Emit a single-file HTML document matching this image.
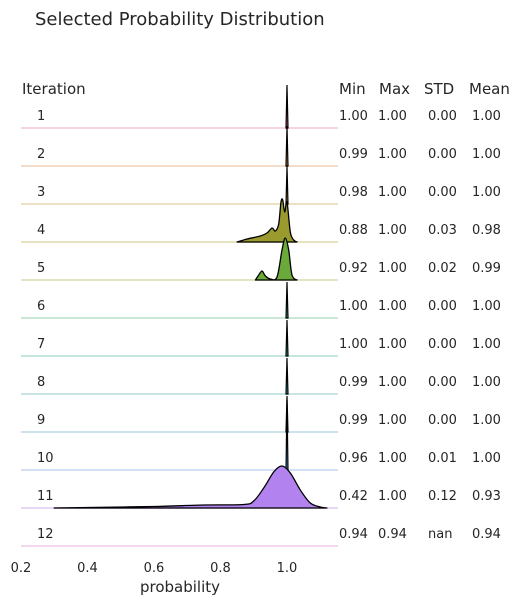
<!DOCTYPE html>
<html><head><meta charset="utf-8"><style>
body{margin:0;background:#fff;}
svg text{font-family:"DejaVu Sans","Liberation Sans",sans-serif;fill:#262626;}
</style></head><body>
<svg id="chart" width="523" height="604" viewBox="0 0 523 604">
<text x="35" y="25" font-size="18">Selected Probability Distribution</text>
<text x="22" y="94" font-size="15">Iteration</text>
<text x="339" y="94" font-size="15">Min</text>
<text x="379" y="94" font-size="15">Max</text>
<text x="424" y="94" font-size="15">STD</text>
<text x="469" y="94" font-size="15">Mean</text>
<g id="ridges"></g>
<g id="xaxis"></g>
<text x="180" y="592" font-size="15" text-anchor="middle">probability</text>
</svg>
<script>
const iterations=["1","2","3","4","5","6","7","8","9","10","11","12"];
const mins=["1.00","0.99","0.98","0.88","0.92","1.00","1.00","0.99","0.99","0.96","0.42","0.94"];
const maxs=["1.00","1.00","1.00","1.00","1.00","1.00","1.00","1.00","1.00","1.00","1.00","0.94"];
const stds=["0.00","0.00","0.00","0.03","0.02","0.00","0.00","0.00","0.00","0.01","0.12","nan"];
const means=["1.00","1.00","1.00","0.98","0.99","1.00","1.00","1.00","1.00","1.00","0.93","0.94"];
const lineColors=["#f7d5dc","#f4dcc8","#ede0c4","#e8e2c0","#e2e6c2","#c9e8d6","#c6e6e0","#c8e4e6","#cce2ec","#d2dff4","#e6d8f6","#f4d6ee"];
const fillColors=["#e06d84","#d48a46","#b69a3a","#9a9a2e","#6aaa3a","#3aad7a","#38aa9e","#3aa8b2","#3ea6c6","#4a9ee0","#b283ee","#e070c8"];
const xTicks=[0.2,0.4,0.6,0.8,1.0];
const dens4=[[0.85,0],[0.88,3],[0.92,6],[0.94,9],[0.955,14],[0.965,11],[0.975,18],[0.982,40],[0.987,42],[0.993,30],[1.0,40],[1.01,10],[1.02,2],[1.03,0]];
const dens5=[[0.905,0],[0.915,5],[0.925,9],[0.935,4],[0.95,1],[0.97,3],[0.985,30],[0.995,42],[1.005,30],[1.015,5],[1.03,0]];
const dens11=[[0.3,0],[0.4,0.5],[0.6,1.5],[0.75,3],[0.87,3.5],[0.9,7],[0.93,20],[0.96,36],[0.985,42],[1.01,35],[1.04,18],[1.07,5],[1.1,1],[1.12,0]];
const spikeHeights=[43,40,38,0,0,36,36,36,36,70,0,0];
const ridgeDens={3:dens4,4:dens5,10:dens11};
const xs=v=>21+(v-0.2)*332.5;
const base=i=>128+i*38;
const NS="http://www.w3.org/2000/svg";
const g=document.getElementById('ridges');
function mk(tag,attrs,parent){const e=document.createElementNS(NS,tag);for(const k in attrs)e.setAttribute(k,attrs[k]);parent.appendChild(e);return e;}
function smooth(pts){
  let p='M'+pts[0][0].toFixed(1)+','+pts[0][1].toFixed(1);
  for(let i=0;i<pts.length-1;i++){
    const p0=pts[Math.max(0,i-1)],p1=pts[i],p2=pts[i+1],p3=pts[Math.min(pts.length-1,i+2)];
    const c1=[p1[0]+(p2[0]-p0[0])/6,p1[1]+(p2[1]-p0[1])/6];
    const c2=[p2[0]-(p3[0]-p1[0])/6,p2[1]-(p3[1]-p1[1])/6];
    p+=` C${c1[0].toFixed(1)},${c1[1].toFixed(1)} ${c2[0].toFixed(1)},${c2[1].toFixed(1)} ${p2[0].toFixed(1)},${p2[1].toFixed(1)}`;
  }
  return p;
}
iterations.forEach((it,i)=>{
  const b=base(i);
  const ln=mk('line',{x1:21,x2:338,y1:b,y2:b,stroke:lineColors[i],'stroke-width':2},g);
  
  
  const d=ridgeDens[i];
  if(d){
    const pts=d.map(q=>[xs(q[0]),b-q[1]]);
    const p=smooth(pts)+' Z';
    const pa=mk('path',{d:p,fill:fillColors[i],stroke:'#000','stroke-width':1.3,'stroke-linejoin':'round'},g);
    
    
  } else if(spikeHeights[i]>0){
    const x=xs(1.0);
    const pa=mk('path',{d:`M${x-1},${b} L${x},${b-spikeHeights[i]} L${x+1},${b} Z`,fill:fillColors[i],stroke:'#000','stroke-width':1.2},g);
    
    
  }
  const vals=[[it,37,'iteration-label'],[mins[i],339,'min-value'],[maxs[i],378,'max-value'],[stds[i],428,'std-value'],[means[i],472,'mean-value']];
  vals.forEach(v=>{
    const t=mk('text',{x:v[1],y:b-8,'font-size':13},g);
    t.textContent=v[0];
    
    
  });
});
const xa=document.getElementById('xaxis');
xTicks.forEach(v=>{
  const t=mk('text',{x:xs(v),y:572,'font-size':13,'text-anchor':'middle'},xa);
  t.textContent=v.toFixed(1);
  
  
});
</script>
</body></html>
